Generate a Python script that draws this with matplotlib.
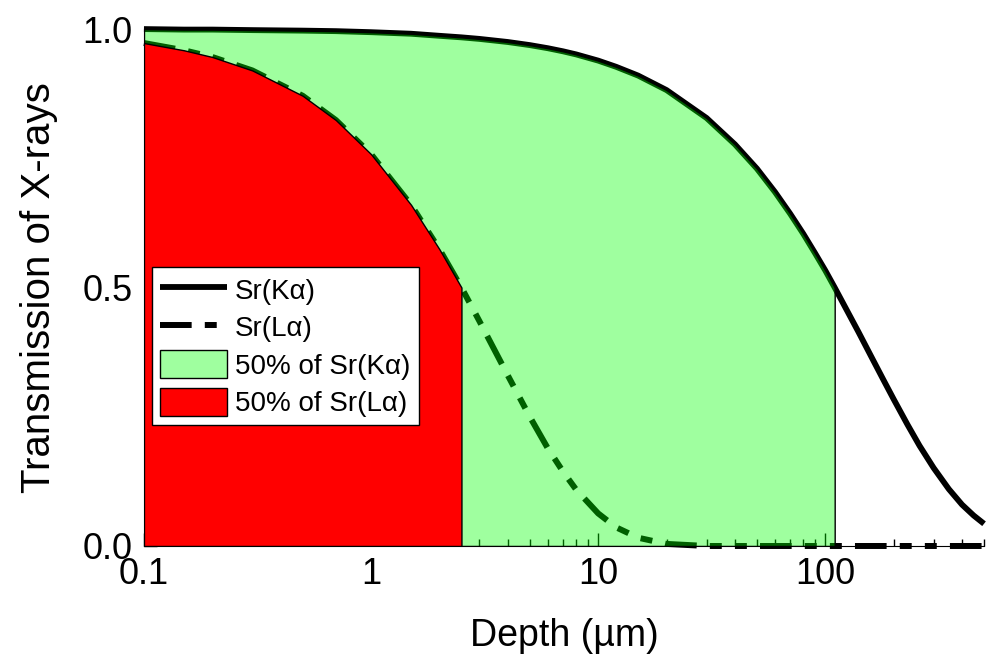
import matplotlib
matplotlib.use("Agg")
import matplotlib.pyplot as plt
import numpy as np
from matplotlib.ticker import LogLocator, NullFormatter, FixedLocator

plt.rcParams['font.family'] = ['Liberation Sans', 'DejaVu Sans']

# depth grid (um) and transmission values
depth = [0.1, 0.15, 0.2, 0.3, 0.5, 0.7, 1, 1.5, 2, 2.5, 3, 4, 5, 6, 7, 8,
         10, 12, 15, 20, 30, 40, 50, 60, 70, 80, 90, 100, 110, 120, 140,
         160, 180, 200, 230, 260, 300, 350, 400, 450, 500]
sr_ka = [1.000, 0.999, 0.999, 0.998, 0.997, 0.996, 0.994, 0.991, 0.987,
         0.984, 0.981, 0.975, 0.969, 0.963, 0.957, 0.951, 0.939, 0.927,
         0.910, 0.882, 0.828, 0.777, 0.730, 0.685, 0.643, 0.604, 0.567,
         0.533, 0.500, 0.469, 0.414, 0.365, 0.322, 0.284, 0.235, 0.194,
         0.151, 0.110, 0.080, 0.059, 0.043]
sr_la = [0.973, 0.959, 0.946, 0.920, 0.871, 0.824, 0.758, 0.660, 0.574,
         0.500, 0.435, 0.330, 0.250, 0.189, 0.144, 0.109, 0.063, 0.036,
         0.016, 0.004, 0.0, 0.0, 0.0, 0.0, 0.0, 0.0, 0.0, 0.0, 0.0, 0.0,
         0.0, 0.0, 0.0, 0.0, 0.0, 0.0, 0.0, 0.0, 0.0, 0.0, 0.0]
ka_half_depth = 110   # 50% of Sr(Ka)
la_half_depth = 2.5   # 50% of Sr(La)

d = np.array(depth)
ka = np.array(sr_ka)
la = np.array(sr_la)

fig = plt.figure(figsize=(9.86, 6.61), dpi=100)
ax = fig.add_axes([0.146, 0.174, 0.852, 0.782])

ax.plot(d, ka, color='black', lw=4.2, zorder=1, clip_on=False,
        solid_capstyle='butt', label='Sr(K\u03b1)')
ax.plot(d, la, color='black', lw=4.3, zorder=1, clip_on=False,
        linestyle=(0, (5.3, 2.2, 2.0, 2.2, 2.0, 2.2)), dash_capstyle='butt',
        label='Sr(L\u03b1)')

ax.fill_between(d, ka, where=d <= ka_half_depth, facecolor=(0, 1, 0, 0.375),
                edgecolor='black', lw=1, zorder=3, label='50% of Sr(K\u03b1)')
ax.fill_between(d, la, where=d <= la_half_depth, facecolor='red',
                edgecolor='black', lw=1, zorder=4, label='50% of Sr(L\u03b1)')

ax.set_xscale('log')
ax.set_xlim(0.1, 500)
ax.set_ylim(0, 1.0)
ax.xaxis.set_major_locator(FixedLocator([0.1, 1, 10, 100]))
ax.set_xticklabels(['0.1', '1', '10', '100'])
ax.xaxis.set_minor_locator(LogLocator(base=10, subs=np.arange(2, 10)))
ax.xaxis.set_minor_formatter(NullFormatter())
ax.set_yticks([0.0, 0.5, 1.0])
ax.set_yticklabels(['0.0', '0.5', '1.0'])

ax.tick_params(axis='both', which='major', direction='in', length=9.5,
               width=1, labelsize=26, pad=8)
ax.tick_params(axis='both', which='minor', direction='in', length=5, width=1)
ax.tick_params(top=False, right=False, which='both')
for s in ['top', 'right']:
    ax.spines[s].set_visible(False)

ax.set_xlabel('Depth (\u00b5m)', fontsize=27, labelpad=19)
ax.set_ylabel('Transmission of X-rays', fontsize=29, labelpad=18)

leg = ax.legend(loc='upper left', bbox_to_anchor=(0.154, 0.596),
                bbox_transform=fig.transFigure, fontsize=20, frameon=True,
                fancybox=False, framealpha=1, edgecolor='black',
                handlelength=2.4, handleheight=1.15, handletextpad=0.3,
                labelspacing=0.3, borderpad=0.3, borderaxespad=0)
leg.get_frame().set_linewidth(1)
leg.set_zorder(10)

fig.savefig('out.png', dpi=100)
